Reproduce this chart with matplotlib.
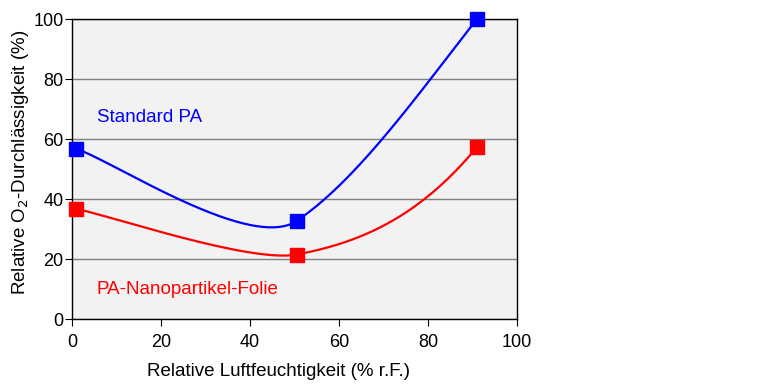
import numpy as np
import matplotlib.pyplot as plt
from matplotlib import rcParams

rcParams['font.family'] = ['Liberation Sans', 'DejaVu Sans']

humidity = [1, 50.5, 91]
standard_pa = [56.7, 32.7, 100]
nano_pa = [36.7, 21.5, 57.3]

# slopes of the smoothed line at each point
standard_slope = [-0.49, 1.0, 1.9]
nano_slope = [-0.31, 0.28, 1.8]
# bezier handle length as a fraction of each segment width (start, end)
HANDLES = [(1 / 6, 0.21), (1 / 3, 1 / 3)]


def smooth(xs, ys, ms, n=80):
    t = np.linspace(0, 1, n)[:, None]
    out = []
    for i in range(len(xs) - 1):
        p0 = np.array([xs[i], ys[i]], float)
        p3 = np.array([xs[i + 1], ys[i + 1]], float)
        h = xs[i + 1] - xs[i]
        k1, k2 = HANDLES[i]
        c1 = p0 + k1 * h * np.array([1, ms[i]])
        c2 = p3 - k2 * h * np.array([1, ms[i + 1]])
        out.append((1 - t) ** 3 * p0 + 3 * (1 - t) ** 2 * t * c1 + 3 * (1 - t) * t ** 2 * c2 + t ** 3 * p3)
    c = np.vstack(out)
    return c[:, 0], c[:, 1]


fig = plt.figure(figsize=(7.76, 3.88), dpi=100)
ax = fig.add_axes([72 / 776, 1 - 319 / 388, 445 / 776, 300 / 388])
ax.set_facecolor('#F2F2F2')
ax.set_axisbelow(True)
ax.grid(axis='y', color='#808080', linewidth=1)

for ys, ms, col in [(standard_pa, standard_slope, '#0000FF'), (nano_pa, nano_slope, '#FF0000')]:
    sx, sy = smooth(humidity, ys, ms)
    ax.plot(sx, sy, color=col, linewidth=1.6, zorder=3)
    ax.plot(humidity, ys, 's', color=col, markersize=10, zorder=4, clip_on=False)

ax.text(5.6, 67, 'Standard PA', color='#0000FF', fontsize=13.5, va='center')
ax.text(5.6, 9.7, 'PA-Nanopartikel-Folie', color='#FF0000', fontsize=13.5, va='center')

ax.set_xlim(0, 100)
ax.set_ylim(0, 100)
ax.set_xticks(range(0, 101, 20))
ax.set_yticks(range(0, 101, 20))
ax.tick_params(labelsize=13, direction='out', length=5, color='black')
ax.tick_params(axis='x', pad=6)
ax.tick_params(axis='y', pad=1)
for s in ax.spines.values():
    s.set_color('black')
    s.set_linewidth(1)

ax.set_xlabel('Relative Luftfeuchtigkeit (% r.F.)', fontsize=13.5)
ax.set_ylabel('Relative O$_2$-Durchlässigkeit (%)', fontsize=13.5)
ax.xaxis.set_label_coords(0.463, -0.145)
ax.yaxis.set_label_coords(-0.093, 0.523)

fig.savefig('out.png', dpi=100)
